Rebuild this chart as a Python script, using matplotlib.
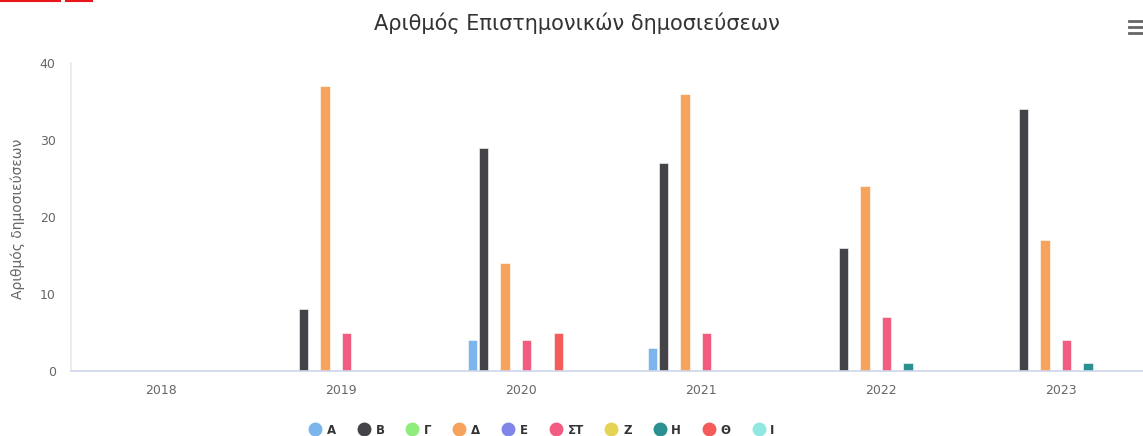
import matplotlib
matplotlib.use("Agg")
import matplotlib.pyplot as plt
import numpy as np
from matplotlib.lines import Line2D

plt.rcParams["font.family"] = ["DejaVu Sans"]

years = ["2018", "2019", "2020", "2021", "2022", "2023"]
series_names = ["Α", "Β", "Γ", "Δ", "Ε", "ΣΤ", "Ζ", "Η", "Θ", "Ι"]
val_a = [0, 0, 4, 3, 0, 0]
val_b = [0, 8, 29, 27, 16, 34]
val_g = [0, 0, 0, 0, 0, 0]
val_d = [0, 37, 14, 36, 24, 17]
val_e = [0, 0, 0, 0, 0, 0]
val_st = [0, 5, 4, 5, 7, 4]
val_z = [0, 0, 0, 0, 0, 0]
val_h = [0, 0, 0, 0, 1, 1]
val_th = [0, 0, 5, 0, 0, 0]
val_i = [0, 0, 0, 0, 0, 0]
all_values = [val_a, val_b, val_g, val_d, val_e, val_st, val_z, val_h, val_th, val_i]
colors = ["#7cb5ec", "#434348", "#90ed7d", "#f7a35c", "#8085e9",
          "#f15c80", "#e4d354", "#2b908f", "#f45b5b", "#91e8e1"]

W, H = 1143, 436
fig = plt.figure(figsize=(W / 100, H / 100), dpi=100)
# plot area in pixels: x 71..1151 (runs off the right edge), y 63..371
ax = fig.add_axes([71 / W, 1 - 371 / H, 1080 / W, 308 / H])

x = np.arange(len(years))
pitch = 0.0597
bar_w = 0.053
for i, (vals, c) in enumerate(zip(all_values, colors)):
    ax.bar(x + (i - 4.5) * pitch, vals, width=bar_w, color=c,
           edgecolor="white", linewidth=0.4, zorder=2)

ax.set_xlim(-0.5, 5.5)
ax.set_ylim(0, 40)
ax.set_yticks([0, 10, 20, 30, 40])
ax.set_xticks(x)
ax.set_xticklabels(years)
ax.tick_params(axis="both", length=0, colors="#666666", labelsize=9)
ax.tick_params(axis="y", pad=11)
ax.tick_params(axis="x", pad=9)
for side in ["top", "right"]:
    ax.spines[side].set_visible(False)
ax.spines["left"].set_color("#e6e9f2")
ax.spines["bottom"].set_color("#ccd6eb")
ax.spines["left"].set_linewidth(1.2)
ax.spines["bottom"].set_linewidth(1.2)

fig.text(18 / W, 1 - 219 / H, "Αριθμός δημοσιεύσεων", rotation=90,
         ha="center", va="center", color="#666666", fontsize=10)
fig.text(577 / W, 1 - 23 / H, "Αριθμός Επιστημονικών δημοσιεύσεων",
         ha="center", va="center", color="#333333", fontsize=15)

handles = [Line2D([], [], marker="o", linestyle="none", markersize=9,
                  markerfacecolor=c, markeredgecolor=c) for c in colors]
leg = fig.legend(handles, series_names, loc="center", ncol=10,
                 bbox_to_anchor=(542 / W, 1 - 430 / H), frameon=False,
                 handlelength=1.0, handletextpad=0.5, columnspacing=1.85,
                 prop={"weight": "bold", "size": 8.5})
for t in leg.get_texts():
    t.set_color("#333333")

# red underline fragment at the top-left and the menu icon
fig.add_artist(Line2D([0, 60 / W], [1 - 1 / H, 1 - 1 / H], color="#e8151b", lw=1.5))
fig.add_artist(Line2D([66 / W, 92 / W], [1 - 1 / H, 1 - 1 / H], color="#e8151b", lw=1.5))
for yy in [21, 27, 33]:
    fig.add_artist(Line2D([1129 / W, 1143 / W], [1 - yy / H, 1 - yy / H],
                          color="#666666", lw=2.0))

fig.savefig("out.png", dpi=100)
